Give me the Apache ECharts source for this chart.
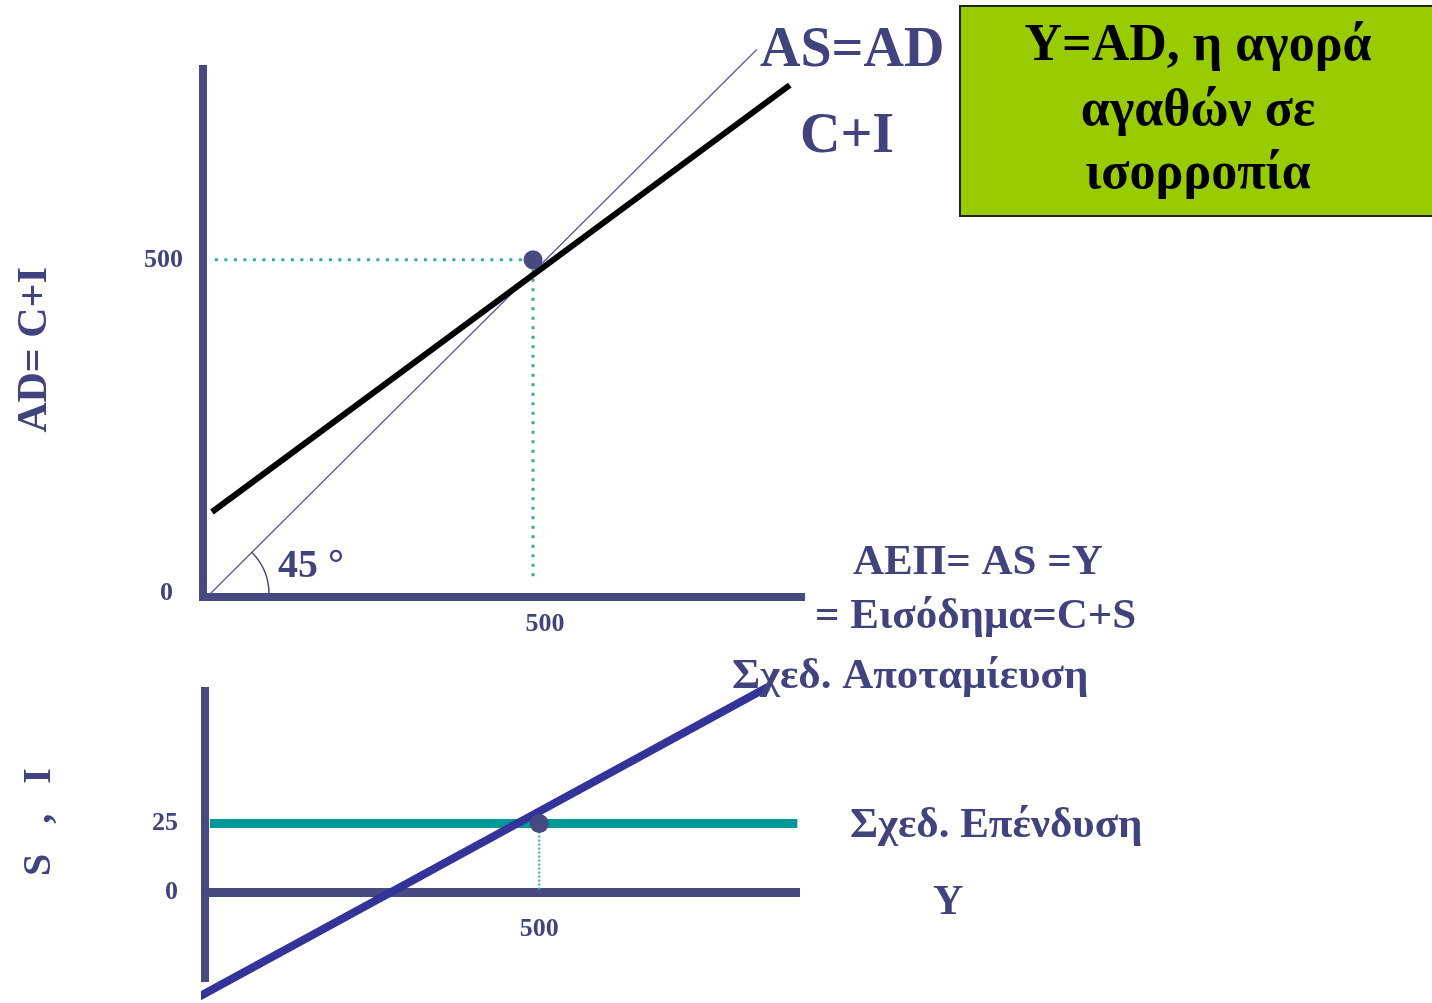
<!DOCTYPE html>
<html>
<head>
<meta charset="utf-8">
<script src="https://cdn.jsdelivr.net/npm/echarts@6/dist/echarts.min.js"></script>
<style>html,body{margin:0;padding:0;background:#fff}#c{width:1432px;height:1003px}</style>
</head>
<body>
<div id="c"></div>
<script>
// ---- data ----
// top panel: Y (x) vs AD = C+I (y)
const topXTicks = [500];
const topYTicks = [0, 500];
const line45 = [[10.6, 4.4], [839, 812]];          // 45° line AS=AD
const lineCI = [[13.6, 126], [889, 759]];           // C+I
const guideH = [[18, 500], [500, 500]];             // dotted guide at AD=500
const guideV = [[500, 500], [500, 25]];             // dotted guide at Y=500
const eqTop = [[500, 500]];
// bottom panel: Y (x) vs S, I (y)
const botXTicks = [500];
const botYTicks = [0, 25];
const lineS = [[-15, -39.2], [842, 75]];            // planned saving
const lineI = [[7.5, 25], [886, 25]];               // planned investment
const guideV2 = [[500, 25], [500, 0]];
const eqBot = [[500, 25]];

const AX = '#474a80', TX = '#41437e', TEAL = '#009999', DOT = '#33aaaa';
const FF = '"Liberation Serif","Times New Roman",serif';

const chart = echarts.init(document.getElementById('c'), null, {renderer: 'canvas'});

function axisCommon(color, w, cap) {
  return {
    axisLine: {show: true, onZero: true, lineStyle: {color: color, width: w, cap: cap}},
    axisTick: {show: false},
    splitLine: {show: false}
  };
}
const lblStyle = {color: TX, fontFamily: FF, fontWeight: 'bold', fontSize: 26};

function lineSeries(data, xi, color, width, type, z) {
  return {type: 'line', xAxisIndex: xi, yAxisIndex: xi, data: data, symbol: 'none',
    clip: false, silent: true, z: z || 2,
    lineStyle: {color: color, width: width, type: type || 'solid'}};
}

const option = {
  animation: false,
  backgroundColor: '#fff',
  grid: [
    {left: 203, top: 69, width: 598, height: 528, outerBoundsMode: 'none', containLabel: false},
    {left: 205, top: 687, width: 595, height: 295, outerBoundsMode: 'none', containLabel: false}
  ],
  xAxis: [
    Object.assign({type: 'value', gridIndex: 0, min: 0, max: 906,
      axisLabel: Object.assign({customValues: topXTicks, margin: 14, padding: [0, 0, 0, 24]}, lblStyle)},
      axisCommon(AX, 8, 'square')),
    // labels stay at the grid edge in v6 while the line sits on zero: pull label up to the zero line
    Object.assign({type: 'value', gridIndex: 1, min: 0, max: 890,
      axisLabel: Object.assign({customValues: botXTicks, margin: -66}, lblStyle)}, axisCommon(AX, 9, 'butt'))
  ],
  yAxis: [
    Object.assign({type: 'value', gridIndex: 0, min: 0, max: 783,
      axisLabel: Object.assign({customValues: topYTicks, margin: 20,
        formatter: v => v === 0 ? '{z|0}' : String(v),
        rich: {z: {color: TX, fontFamily: FF, fontWeight: 'bold', fontSize: 26, padding: [0, 10, 8, 0]}}}, lblStyle)},
      axisCommon(AX, 8, 'square')),
    Object.assign({type: 'value', gridIndex: 1, min: -33, max: 75,
      axisLabel: Object.assign({customValues: botYTicks, margin: 27}, lblStyle)}, axisCommon(AX, 8, 'butt'))
  ],
  series: [
    lineSeries(guideH, 0, DOT, 3, [3, 6.5]),
    lineSeries(guideV, 0, DOT, 3, [3, 6.5]),
    lineSeries(line45, 0, '#5b5c9c', 1.3),
    lineSeries(lineCI, 0, '#000000', 6),
    {type: 'scatter', xAxisIndex: 0, yAxisIndex: 0, data: eqTop, symbolSize: 19,
      itemStyle: {color: AX, opacity: 1}, silent: true, z: 5},
    lineSeries(lineI, 1, TEAL, 9),
    lineSeries(guideV2, 1, DOT, 2, [2, 2]),
    lineSeries(lineS, 1, '#333399', 8, 'solid', 3),
    {type: 'scatter', xAxisIndex: 1, yAxisIndex: 1, data: eqBot, symbolSize: 19,
      itemStyle: {color: AX, opacity: 1}, silent: true, z: 5}
  ]
};
chart.setOption(option);

const o = chart.convertToPixel({gridIndex: 0}, line45[0]);

function txt(x, y, s, size, opts) {
  return Object.assign({type: 'text', x: x, y: y, silent: true, z: 10,
    style: Object.assign({text: s, fill: TX, font: 'bold ' + size + 'px ' + FF,
      textAlign: 'left', textVerticalAlign: 'middle'}, (opts && opts.style) || {})},
    (opts && opts.el) || {});
}

chart.setOption({
  graphic: [
    {type: 'arc', silent: true, z: 10,
      shape: {cx: o[0], cy: o[1], r: 59, startAngle: -Math.PI / 4, endAngle: 0, clockwise: true},
      style: {stroke: AX, lineWidth: 1.5, fill: null}},
    txt(278, 567, '45 °', 40),
    txt(760, 52, 'AS=AD', 56),
    txt(800, 138, 'C+I', 56),
    {type: 'rect', silent: true, z: 9,
      shape: {x: 960, y: 6, width: 480, height: 210},
      style: {fill: '#99cc00', stroke: '#222', lineWidth: 2}},
    txt(1198, 47, 'Y=AD, η αγορά', 52, {style: {fill: '#000', textAlign: 'center'}}),
    txt(1198, 112, 'αγαθών σε', 52, {style: {fill: '#000', textAlign: 'center'}}),
    txt(1198, 175, 'ισορροπία', 52, {style: {fill: '#000', textAlign: 'center'}}),
    txt(853, 563, 'ΑΕΠ= AS =Y', 43),
    txt(815, 617, '= Εισόδημα=C+S', 43),
    txt(732, 677, 'Σχεδ. Αποταμίευση', 43),
    txt(850, 826, 'Σχεδ. Επένδυση', 43),
    txt(933, 903, 'Y', 42),
    txt(35, 350, 'AD= C+I', 42, {style: {textAlign: 'center'}, el: {rotation: Math.PI / 2}}),
    txt(40, 822, 'S   ,   I', 40, {style: {textAlign: 'center'}, el: {rotation: Math.PI / 2}})
  ]
});
</script>
</body>
</html>
